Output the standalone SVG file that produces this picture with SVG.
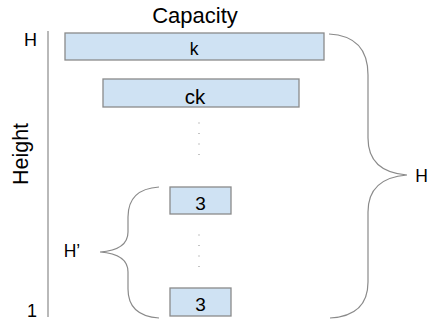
<svg xmlns="http://www.w3.org/2000/svg" width="431" height="321" viewBox="0 0 431 321">
  <style>
    .box { fill: #cfe2f3; stroke: #8a8a8a; stroke-width: 1.3; }
    .lbl { font-family: "Liberation Sans", Arial, sans-serif; fill: #000; text-anchor: middle; }
    .brace { fill: none; stroke: #8a8a8a; stroke-width: 1.2; }
    .dot { fill: #888; }
  </style>
  <rect width="431" height="321" fill="#fff"/>

  <!-- axis titles -->
  <text class="lbl" x="195" y="23" font-size="22">Capacity</text>
  <text class="lbl" x="0" y="0" font-size="21.5" transform="translate(28,154) rotate(-90)">Height</text>

  <!-- height axis -->
  <g id="axis">
    <line x1="48" y1="31" x2="48" y2="317" stroke="#8a8a8a" stroke-width="1.2"/>
    <text class="lbl" x="30.5" y="45.5" font-size="18">H</text>
    <text class="lbl" x="32" y="317" font-size="18">1</text>
  </g>

  <!-- bins -->
  <g id="bin-k">
    <rect class="box" x="65" y="33" width="259" height="27"/>
    <text class="lbl" x="194" y="55" font-size="17.5">k</text>
  </g>
  <g id="bin-ck">
    <rect class="box" x="103" y="79" width="196" height="28"/>
    <text class="lbl" x="195" y="103.5" font-size="20.5">ck</text>
  </g>
  <g id="bin-3a">
    <rect class="box" x="170" y="187" width="61" height="27"/>
    <text class="lbl" x="200.5" y="209.5" font-size="19">3</text>
  </g>
  <g id="bin-3b">
    <rect class="box" x="170" y="288" width="61" height="28"/>
    <text class="lbl" x="200.5" y="311" font-size="19">3</text>
  </g>

  <!-- ellipsis dots -->
  <g id="dots">
    <rect class="dot" x="198.5" y="122.5" width="1" height="1"/>
    <rect class="dot" x="198.5" y="133" width="1" height="1"/>
    <rect class="dot" x="198.5" y="143.5" width="1" height="1"/>
    <rect class="dot" x="198.5" y="154" width="1" height="1"/>
    <rect class="dot" x="198.5" y="234.5" width="1" height="1"/>
    <rect class="dot" x="198.5" y="245" width="1" height="1"/>
    <rect class="dot" x="198.5" y="255.5" width="1" height="1"/>
    <rect class="dot" x="198.5" y="266" width="1" height="1"/>
  </g>

  <!-- braces -->
  <g id="connectors">
    <path class="brace" d="M329,34 Q368,36 368,75 L368,138 Q368,172 407,175 Q368,178 368,212 L368,282 Q368,316 330,318"/>
    <path class="brace" d="M159,187 Q128,189 128,217 L128,232 Q128,250 100,252 Q128,254 128,272 L128,289 Q128,316 159,318"/>
  </g>

  <g id="brace-labels">
    <text class="lbl" x="421.5" y="182" font-size="17.5">H</text>
    <text class="lbl" x="72" y="257" font-size="17.5">H’</text>
  </g>
</svg>
